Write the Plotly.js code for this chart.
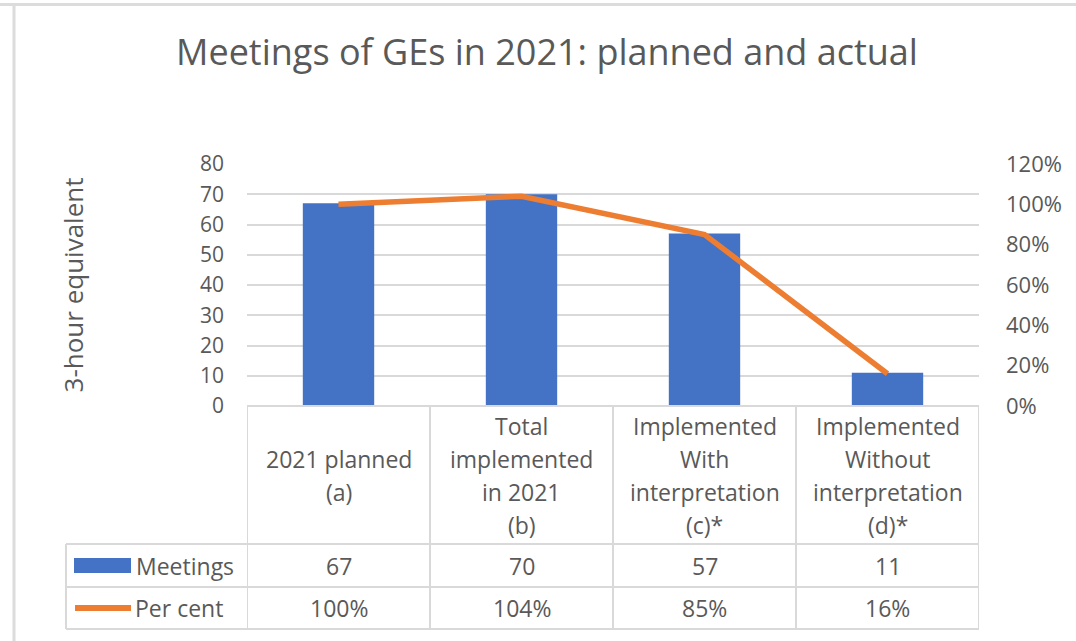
<!DOCTYPE html>
<html>
<head>
<meta charset="utf-8">
<script src="https://cdn.plot.ly/plotly-3.0.1.min.js"></script>
<style>html,body{margin:0;padding:0;background:#fff;}#chart{width:1076px;height:641px;}</style>
</head>
<body>
<div id="chart"></div>
<script>
// ---- data ----
const categories = ["2021 planned\n(a)", "Total\nimplemented\nin 2021\n(b)", "Implemented\nWith\ninterpretation\n(c)*", "Implemented\nWithout\ninterpretation\n(d)*"];
const meetings = [67, 70, 57, 11];
const perCent = [1.00, 1.04, 0.85, 0.16];
const seriesNames = ["Meetings", "Per cent"];
const leftTicks = [0, 10, 20, 30, 40, 50, 60, 70, 80];
const rightTicks = [0, 0.2, 0.4, 0.6, 0.8, 1.0, 1.2];

// ---- layout geometry ----
const W = 1076, H = 641, ML = 247, MR = 97, MT = 164, MB = 235;
const px = v => (v - ML) / (W - ML - MR);
const py = v => (H - MB - v) / (H - MT - MB);
const FONT = "Open Sans, sans-serif";
const GREY = "#595959", LINEC = "#D9D9D9";
const BLUE = "#4472C4", ORANGE = "#ED7D31";

const xIdx = categories.map((_, i) => i);

const traces = [
  { type: "bar", x: xIdx, y: meetings, name: seriesNames[0], marker: { color: BLUE }, width: 0.39, yaxis: "y", hoverinfo: "skip" },
  { type: "scatter", mode: "lines", x: xIdx, y: perCent, name: seriesNames[1], line: { color: ORANGE, width: 5.5 }, yaxis: "y2", hoverinfo: "skip" }
];

const shapes = [];
const annotations = [];
const lw = 2;
// table horizontal lines
[406].forEach(yy => shapes.push({ type: "line", xref: "paper", yref: "paper", x0: px(ML), x1: px(W - MR), y0: py(yy), y1: py(yy), line: { color: LINEC, width: lw } }));
[544, 587, 629].forEach(yy => shapes.push({ type: "line", xref: "paper", yref: "paper", x0: px(66), x1: px(W - MR), y0: py(yy), y1: py(yy), line: { color: LINEC, width: lw } }));
// vertical lines at category boundaries
for (let i = 0; i <= categories.length; i++) {
  shapes.push({ type: "line", xref: "x", yref: "paper", x0: i - 0.5, x1: i - 0.5, y0: py(406), y1: py(629), line: { color: LINEC, width: lw } });
}
shapes.push({ type: "line", xref: "paper", yref: "paper", x0: px(66), x1: px(66), y0: py(544), y1: py(629), line: { color: LINEC, width: lw } });
// legend keys
shapes.push({ type: "rect", xref: "paper", yref: "paper", x0: px(74), x1: px(131), y0: py(558), y1: py(573), fillcolor: BLUE, line: { width: 0 } });
shapes.push({ type: "line", xref: "paper", yref: "paper", x0: px(75), x1: px(131), y0: py(608), y1: py(608), line: { color: ORANGE, width: 6 } });
// screenshot frame lines
shapes.push({ type: "line", xref: "paper", yref: "paper", x0: px(0), x1: px(W), y0: py(4.5), y1: py(4.5), line: { color: "#DCDCDC", width: 3 } });
shapes.push({ type: "line", xref: "paper", yref: "paper", x0: px(14), x1: px(14), y0: py(4), y1: py(H), line: { color: "#DCDCDC", width: 3 } });

const tf = { family: FONT, size: 23, color: GREY };
// header text
categories.forEach((c, i) => {
  const lines = c.split("\n");
  lines.forEach((t, j) => {
    const yy = 475 + (j - (lines.length - 1) / 2) * 33;
    annotations.push({ xref: "x", yref: "paper", x: i, y: py(yy), text: t, showarrow: false, font: tf, xanchor: "center", yanchor: "middle" });
  });
  annotations.push({ xref: "x", yref: "paper", x: i, y: py(566), text: String(meetings[i]), showarrow: false, font: tf, xanchor: "center", yanchor: "middle" });
  annotations.push({ xref: "x", yref: "paper", x: i, y: py(608), text: Math.round(perCent[i] * 100) + "%", showarrow: false, font: tf, xanchor: "center", yanchor: "middle" });
});
annotations.push({ xref: "paper", yref: "paper", x: px(134), y: py(566), text: seriesNames[0], showarrow: false, font: tf, xanchor: "left", yanchor: "middle" });
annotations.push({ xref: "paper", yref: "paper", x: px(133), y: py(608), text: seriesNames[1], showarrow: false, font: tf, xanchor: "left", yanchor: "middle" });

const layout = {
  width: W, height: H,
  margin: { l: ML, r: MR, t: MT, b: MB, pad: 0 },
  paper_bgcolor: "#fff", plot_bgcolor: "#fff",
  showlegend: false,
  font: { family: FONT, color: GREY },
  title: { text: "Meetings of GEs in 2021: planned and actual", font: { family: FONT, size: 36, color: GREY }, xref: "container", yref: "container", x: 547 / W, y: 1 - 52 / H, xanchor: "center", yanchor: "middle" },
  xaxis: { range: [-0.5, categories.length - 0.5], showticklabels: false, showgrid: false, zeroline: false, showline: false, fixedrange: true },
  yaxis: { range: [0, 80], tickvals: leftTicks, showgrid: true, gridcolor: LINEC, gridwidth: 2, zeroline: false, showline: false, ticks: "", ticklabelstandoff: 22, tickfont: { family: FONT, size: 21, color: GREY },
    title: { text: "3-hour equivalent", font: { family: FONT, size: 26, color: GREY }, standoff: 108 } },
  yaxis2: { range: [0, 1.2], tickvals: rightTicks, tickformat: ".0%", overlaying: "y", side: "right", showgrid: false, zeroline: false, showline: false, ticks: "", ticklabelstandoff: 26, tickfont: { family: FONT, size: 22, color: GREY } },
  shapes: shapes,
  annotations: annotations
};

Plotly.newPlot("chart", traces, layout, { staticPlot: true, displayModeBar: false });
</script>
</body>
</html>
